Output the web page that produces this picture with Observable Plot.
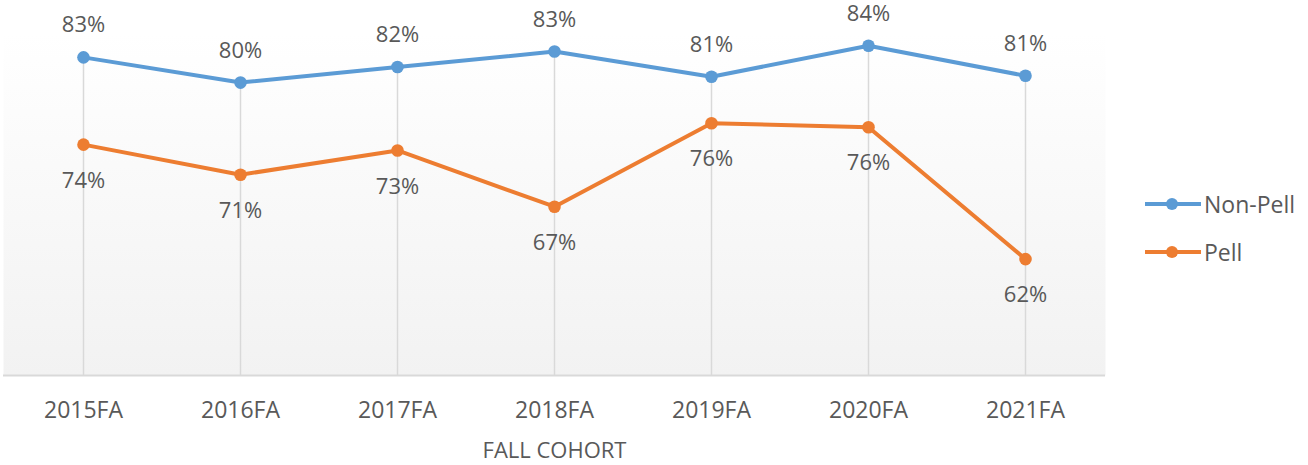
<!DOCTYPE html>
<html>
<head>
<meta charset="utf-8">
<script src="https://cdn.jsdelivr.net/npm/d3@7"></script>
<script src="https://cdn.jsdelivr.net/npm/@observablehq/plot@0.6"></script>
<style>
  body { margin: 0; background: #fff; font-family: "Open Sans", sans-serif; }
  #wrap { position: relative; width: 1308px; height: 465px; }
  #legend { position: absolute; left: 1145px; top: 187px; color: #595959; font-size: 23px; }
  .item { display: flex; align-items: center; height: 34px; margin-bottom: 14px; }
  .item svg { margin-right: 3px; }
</style>
</head>
<body>
<div id="wrap"></div>
<script>
const cohorts = ["2015FA", "2016FA", "2017FA", "2018FA", "2019FA", "2020FA", "2021FA"];
const nonPell = [82.8, 80.2, 81.8, 83.4, 80.8, 84.0, 80.9];
const pell = [73.8, 70.7, 73.2, 67.4, 76.0, 75.6, 62.0];
const seriesNames = ["Non-Pell", "Pell"];
const seriesColors = ["#5B9BD5", "#ED7D31"];
const axisTitle = "FALL COHORT";

const rows = cohorts.flatMap((c, i) => [
  {cohort: c, series: "Non-Pell", value: nonPell[i]},
  {cohort: c, series: "Pell", value: pell[i]}
]);
const np = rows.filter(d => d.series === "Non-Pell");
const pe = rows.filter(d => d.series === "Pell");
const textColor = "#595959";
const fmt = d => Math.round(d.value) + "%";

const chart = Plot.plot({
  width: 1308,
  height: 465,
  marginLeft: 3,
  marginRight: 203,
  marginTop: 33,
  marginBottom: 90,
  style: {fontFamily: "Open Sans", background: "transparent", overflow: "visible"},
  x: {type: "point", domain: cohorts, padding: 0.5, axis: null},
  y: {domain: [50, 85.26], axis: null},
  color: {domain: seriesNames, range: seriesColors},
  marks: [
    Plot.frame({fill: "url(#plotbg)", stroke: "none"}),
    Plot.ruleX(np, {x: "cohort", y1: 50, y2: "value", stroke: "#d9d9d9", strokeWidth: 1.5}),
    Plot.ruleY([50], {stroke: "#d9d9d9", strokeWidth: 2}),
    Plot.axisX({tickSize: 0, tickPadding: 26, fontSize: 23, fill: textColor, label: null}),
    Plot.text([axisTitle], {frameAnchor: "bottom", dy: 82, fontSize: 22, fill: textColor}),
    Plot.line(rows, {x: "cohort", y: "value", z: "series", stroke: "series", strokeWidth: 4}),
    Plot.dot(rows, {x: "cohort", y: "value", fill: "series", r: 6.3}),
    Plot.text(np, {x: "cohort", y: "value", text: fmt, dy: -32, fontSize: 22, fill: textColor}),
    Plot.text(pe, {x: "cohort", y: "value", text: fmt, dy: 36, fontSize: 22, fill: textColor})
  ]
});

d3.select(chart).insert("defs", ":first-child").html(
  '<linearGradient id="plotbg" x1="0" y1="0" x2="0" y2="1">' +
  '<stop offset="0" stop-color="#ffffff"/><stop offset="1" stop-color="#f2f2f2"/>' +
  '</linearGradient>'
);

const wrap = document.getElementById("wrap");
wrap.appendChild(chart);

const legend = document.createElement("div");
legend.id = "legend";
seriesNames.forEach((name, i) => {
  const item = document.createElement("div");
  item.className = "item";
  item.innerHTML =
    `<svg width="56" height="16"><line x1="0" x2="56" y1="8" y2="8" stroke="${seriesColors[i]}" stroke-width="4"/>` +
    `<circle cx="27" cy="8" r="6" fill="${seriesColors[i]}"/></svg><span>${name}</span>`;
  legend.appendChild(item);
});
wrap.appendChild(legend);
</script>
</body>
</html>
